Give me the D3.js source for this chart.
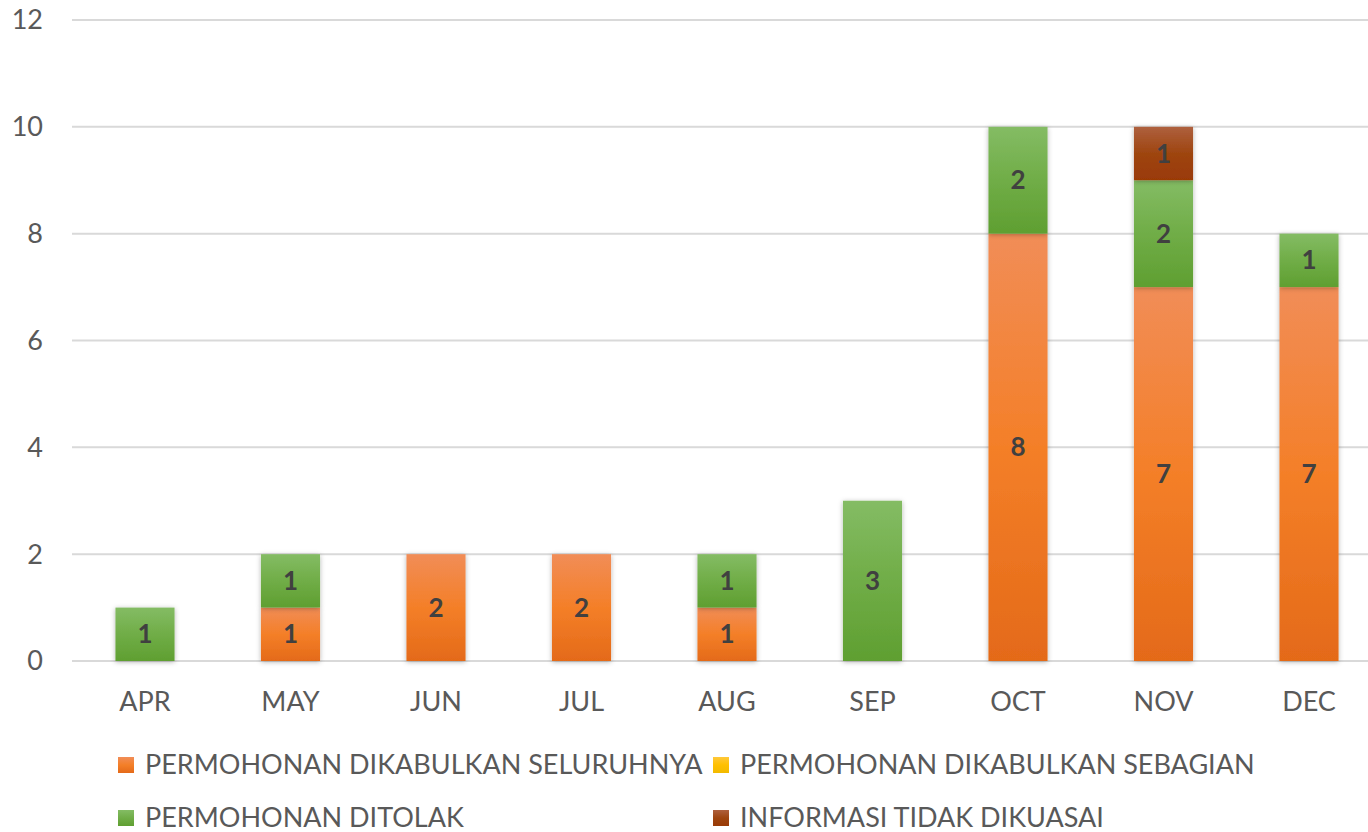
<!DOCTYPE html>
<html><head><meta charset="utf-8">
<script src="https://cdn.jsdelivr.net/npm/d3@7"></script>
<style>html,body{margin:0;padding:0;background:#fff;}svg{display:block;}</style>
</head><body>
<svg id="chart" width="1368" height="832"></svg>
<script>
const months = ["APR","MAY","JUN","JUL","AUG","SEP","OCT","NOV","DEC"];
const seriesNames = ["PERMOHONAN DIKABULKAN SELURUHNYA","PERMOHONAN DIKABULKAN SEBAGIAN","PERMOHONAN DITOLAK","INFORMASI TIDAK DIKUASAI"];
const seluruhnya = [0,1,2,2,1,0,8,7,7];
const sebagian   = [0,0,0,0,0,0,0,0,0];
const ditolak    = [1,1,0,0,1,3,2,2,1];
const tidakDikuasai = [0,0,0,0,0,0,0,1,0];
const yTicks = [0,2,4,6,8,10,12];

const grads = [
  ["#F18D57","#F47F28","#E46A19"],
  ["#FFC83A","#FFC000","#F2BA00"],
  ["#84BC64","#70AD47","#5F9F31"],
  ["#AE603E","#9E4510","#9A3A06"]
];
const font = "Lato, 'Open Sans', sans-serif";
const svg = d3.select("#chart");
const defs = svg.append("defs");
grads.forEach((g,i)=>{
  const lg = defs.append("linearGradient").attr("id","g"+i).attr("x1",0).attr("y1",0).attr("x2",0).attr("y2",1);
  lg.append("stop").attr("offset","0%").attr("stop-color",g[0]);
  lg.append("stop").attr("offset","50%").attr("stop-color",g[1]);
  lg.append("stop").attr("offset","100%").attr("stop-color",g[2]);
});
const f = defs.append("filter").attr("id","sh").attr("x","-30%").attr("y","-30%").attr("width","160%").attr("height","160%");
f.append("feDropShadow").attr("dx",0).attr("dy",1).attr("stdDeviation",2.5).attr("flood-color","#000").attr("flood-opacity",0.3);

const data = months.map((m,i)=>({month:m, s0:seluruhnya[i], s1:sebagian[i], s2:ditolak[i], s3:tidakDikuasai[i]}));
const keys = ["s0","s1","s2","s3"];
const stack = d3.stack().keys(keys)(data);

const x = d3.scaleBand().domain(months).range([72.25,1381.75]).paddingInner(0.594).paddingOuter(0.297);
const y = d3.scaleLinear().domain([0,12]).range([661,20]);

// gridlines
svg.append("g").selectAll("line").data(yTicks).join("line")
  .attr("x1",72).attr("x2",1368).attr("y1",d=>y(d)).attr("y2",d=>y(d))
  .attr("stroke","#D9D9D9").attr("stroke-width",2);

// y labels
svg.append("g").selectAll("text").data(yTicks).join("text")
  .attr("x",43).attr("y",d=>y(d)).attr("dy","0.35em").attr("text-anchor","end")
  .attr("font-family",font).attr("font-size",27).attr("fill","#595959").text(d=>d);

// bars
const bars = svg.append("g");
stack.forEach((layer,si)=>{
  bars.append("g").selectAll("rect").data(layer.filter(d=>d[1]-d[0]>0)).join("rect")
    .attr("x",d=>x(d.data.month)).attr("width",x.bandwidth())
    .attr("y",d=>y(d[1])).attr("height",d=>y(d[0])-y(d[1]))
    .attr("fill","url(#g"+si+")").attr("filter","url(#sh)");
});
// labels
stack.forEach((layer,si)=>{
  bars.append("g").selectAll("text").data(layer.filter(d=>d[1]-d[0]>0)).join("text")
    .attr("x",d=>x(d.data.month)+x.bandwidth()/2).attr("y",d=>(y(d[0])+y(d[1]))/2).attr("dy","0.35em")
    .attr("text-anchor","middle").attr("font-family",font).attr("font-weight","bold").attr("font-size",26)
    .attr("fill","#404040").text(d=>d[1]-d[0]);
});

// x labels
svg.append("g").selectAll("text").data(months).join("text")
  .attr("x",d=>x(d)+x.bandwidth()/2).attr("y",702).attr("dy","0.35em").attr("text-anchor","middle")
  .attr("font-family",font).attr("font-size",27).attr("fill","#595959").text(d=>d);

// legend
const legPos = [[118,765],[713,765],[118,818],[713,818]];
const leg = svg.append("g");
seriesNames.forEach((n,i)=>{
  const [lx,ly] = legPos[i];
  leg.append("rect").attr("x",lx).attr("y",ly-8).attr("width",16).attr("height",16).attr("fill","url(#g"+i+")");
  leg.append("text").attr("x",lx+27).attr("y",ly).attr("dy","0.35em")
    .attr("font-family",font).attr("font-size",27).attr("fill","#595959").text(n);
});
</script>
</body></html>
